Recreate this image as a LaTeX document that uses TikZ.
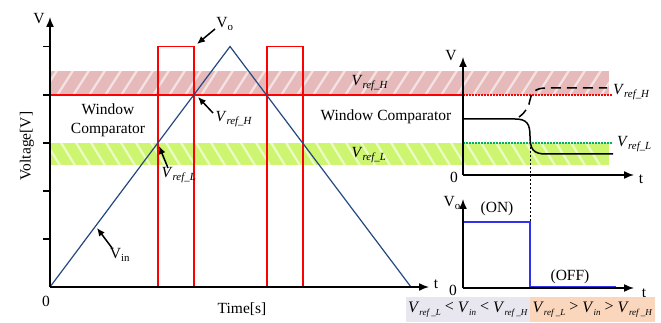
\documentclass[tikz,border=0pt]{standalone}
\usepackage{fontspec}
\setmainfont{Liberation Serif}
\usetikzlibrary{arrows.meta}
\definecolor{bandred}{RGB}{230,186,186}
\definecolor{bandgreen}{RGB}{206,245,112}
\definecolor{vinblue}{RGB}{36,72,128}
\definecolor{stepblue}{RGB}{50,50,235}
\definecolor{boxgray}{RGB}{232,230,238}
\definecolor{boxpeach}{RGB}{250,214,188}
\definecolor{dotgreen}{RGB}{0,180,90}
\newcommand\Vsub[1]{\textit{V}\textsubscript{\textit{#1}}}
\newcommand\Vup[1]{V\textsubscript{#1}}
\newcommand\Vbx[1]{\textit{V}\raisebox{-3.5pt}{\fontsize{9}{10}\selectfont\textit{#1}}}
\begin{document}
\begin{tikzpicture}[x=1pt,y=-1pt,
  axis/.style={line width=1.5pt,-{Latex[length=10pt,width=8pt]}},
  ptr/.style={line width=1.5pt,-{Latex[length=8pt,width=7pt]}},
  lbl/.style={font=\fontsize{15.5}{18}\selectfont, inner sep=0pt},
  redln/.style={red, line width=1.2pt},
  stripe/.style={white, line width=2.2pt, opacity=0.6},
  tickln/.style={line width=1.2pt},
  condbox/.style={minimum height=25pt, inner sep=0pt, font=\fontsize{16}{18}\selectfont}]
\useasboundingbox (0,0) rectangle (661,323);

% bands
\fill[bandred] (50,71) rectangle (609,95);
\fill[bandgreen] (50,143) rectangle (609,165);
\begin{scope}
  \clip (50,71) rectangle (609,95);
  \foreach \i in {0,...,36} \draw[stripe] (40+16*\i,97) -- (58+16*\i,69);
\end{scope}
\begin{scope}
  \clip (50,143) rectangle (609,165);
  \foreach \i in {0,...,37} \draw[stripe] (30+15*\i,141) -- (46+15*\i,167);
\end{scope}

% left plot: red line and pulses
\draw[redln] (50,95) -- (463,95);
\draw[redln] (158,287) -- (158,46.5) -- (194,46.5) -- (194,287);
\draw[redln] (267,287) -- (267,46.5) -- (303,46.5) -- (303,287);
% Vin triangle
\coordinate (o) at (50,287);
\coordinate (peak) at (230,46.5);
\coordinate (tend) at (411,287);
\draw[vinblue, line width=1.2pt] (o) -- (peak) -- (tend);

% left axes
\coordinate (ytip) at (50,17);
\coordinate (xtip) at (429,287);
\draw[axis] (o) -- (ytip);
\draw[axis] (o) -- (xtip);
\foreach \y in {46.5,95,143,191,239} \draw[tickln] (43,\y) -- (50,\y);

\node[lbl] (lV) at (39,19) {V};
\node[lbl] (l0) at (46,301) {0};
\node[lbl] (lt) at (436,284) {t};
\node[lbl] (ltime) at (242,309) {Time[s]};
\node[lbl, rotate=90] (lvolt) at (27,146) {Voltage[V]};
\node[lbl, align=center] (lwin) at (108,120) {Window\\[1pt]Comparator};

% pointer labels
\node[lbl] (lvo) at (225,24) {\Vup{o}};
\coordinate (vo0) at (215,29);
\coordinate (vo1) at (197,44);
\draw[ptr] (vo0) -- (vo1);

\node[lbl] (lvh) at (234,119) {\Vsub{ref\_H}};
\coordinate (vh0) at (213,113);
\coordinate (vh1) at (198,97);
\draw[ptr] (vh0) -- (vh1);

\node[lbl] (lvl) at (179,175) {\Vsub{ref\_L}};
\coordinate (vl0) at (168,168);
\coordinate (vl1) at (159,146);
\draw[ptr] (vl0) -- (vl1);

\node[lbl] (lvin) at (120,255) {\Vup{in}};
\coordinate (vi0) at (112,248);
\coordinate (vi1) at (97,228);
\draw[ptr] (vi0) -- (vi1);

% band labels and middle text
\node[lbl] (bh) at (370,83) {\Vsub{ref\_H}};
\node[lbl] (bl) at (369,155) {\Vsub{ref\_L}};
\node[lbl] (mwin) at (386,117) {Window Comparator};

% right top plot
\draw[red, line width=1.2pt, dash pattern=on 1.5pt off 1.5pt] (463,95) -- (613,95);
\draw[dotgreen, line width=1.2pt, dash pattern=on 1.5pt off 1.5pt] (463,143) -- (613,143);
\coordinate (ro) at (463,175);
\coordinate (rytip) at (463,57);
\coordinate (rxtip) at (634,175);
\draw[line width=1.5pt] (463,119) -- (515,119) .. controls (527,119) and (530,124) .. (530,136)
   .. controls (530,149) and (533,154) .. (546,154) -- (613,154);
\draw[line width=1.5pt, dash pattern=on 10pt off 6pt] (519,117) .. controls (526,112) and (529,106) .. (530,100)
   .. controls (531,93) and (535,88) .. (546,88) -- (607,88);
\draw[line width=1pt, dash pattern=on 2pt off 2pt] (530,143) -- (530,222);
\draw[axis] (ro) -- (rytip);
\draw[axis] (ro) -- (rxtip);
\node[lbl] (rV) at (451,56) {V};
\node[lbl] (r0) at (454,177) {0};
\node[lbl] (rt) at (641,179) {t};
\node[lbl, anchor=west] (rvh) at (613,92) {\Vsub{ref\_H}};
\node[lbl, anchor=west] (rvl) at (617,144) {\Vsub{ref\_L}};

% right bottom plot
\coordinate (so) at (463,288);
\coordinate (sytip) at (463,199);
\coordinate (sxtip) at (634,288);
\draw[stepblue, line width=1.3pt] (463,222) -- (530,222) -- (530,287) -- (616,287);
\draw[axis] (so) -- (sytip);
\draw[axis] (so) -- (sxtip);
\node[lbl, anchor=east] (sV) at (461,203) {\Vup{o}};
\node[lbl] (son) at (497,209) {(ON)};
\node[lbl] (soff) at (570,277) {(OFF)};
\node[lbl] (s0) at (453,290) {0};
\node[lbl] (st) at (644,293) {t};

% condition boxes
\node[condbox, fill=boxgray, minimum width=124pt] (boxA) at (468,309.5)
  {\Vbx{ref \_L} \raisebox{1pt}{<} \Vbx{in} \raisebox{1pt}{<} \Vbx{ref \_H}};
\node[condbox, fill=boxpeach, minimum width=125pt] (boxB) at (592.5,309.5)
  {\Vbx{ref \_L} \raisebox{1pt}{>} \Vbx{in} \raisebox{1pt}{>} \Vbx{ref \_H}};
\end{tikzpicture}
\end{document}
